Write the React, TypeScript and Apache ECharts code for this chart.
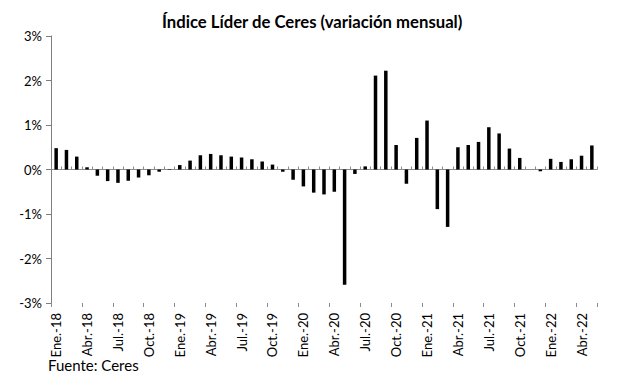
import React, { useEffect, useRef } from "react";
import * as echarts from "echarts";

const MONTHS = ["Ene", "Feb", "Mar", "Abr", "May", "Jun", "Jul", "Ago", "Sep", "Oct", "Nov", "Dic"];
const YEARS = ["18", "19", "20", "21", "22"];
const N_MONTHS = 53;

const categories: string[] = [];
for (let i = 0; i < N_MONTHS; i++) {
  categories.push(`${MONTHS[i % 12]}.-${YEARS[Math.floor(i / 12)]}`);
}

const values2018 = [0.48, 0.44, 0.29, 0.05, -0.14, -0.26, -0.3, -0.25, -0.18, -0.13, -0.05, 0.01];
const values2019 = [0.1, 0.2, 0.32, 0.35, 0.32, 0.29, 0.27, 0.23, 0.18, 0.11, -0.05, -0.23];
const values2020 = [-0.38, -0.52, -0.56, -0.5, -2.59, -0.1, 0.07, 2.11, 2.22, 0.55, -0.32, 0.71];
const values2021 = [1.1, -0.89, -1.29, 0.5, 0.55, 0.62, 0.95, 0.81, 0.47, 0.26, 0.0, -0.04];
const values2022 = [0.24, 0.17, 0.23, 0.31, 0.54];

const seriesValues = [...values2018, ...values2019, ...values2020, ...values2021, ...values2022];

const TITLE = "Índice Líder de Ceres (variación mensual)";
const SOURCE = "Fuente: Ceres";

const FONT = "Lato, 'Open Sans', sans-serif";

export default function App() {
  const ref = useRef<HTMLDivElement>(null);
  useEffect(() => {
    if (!ref.current) return;
    const chart = echarts.init(ref.current, undefined, { renderer: "svg" });
    chart.setOption({
      animation: false,
      backgroundColor: "#ffffff",
      title: {
        text: TITLE,
        left: 157,
        top: 8,
        textStyle: { fontFamily: FONT, fontWeight: "bold", fontSize: 16.7, color: "#000" },
      },
      grid: { left: 51, top: 36, right: 20, bottom: 75, containLabel: false },
      xAxis: [
        {
          type: "category",
          data: categories,
          position: "bottom",
          axisLine: { show: false, onZero: false },
          axisTick: { show: false },
          axisLabel: {
            interval: 2,
            rotate: 90,
            margin: 10,
            fontFamily: FONT,
            fontSize: 13,
            color: "#000",
          },
          splitLine: { show: false },
        },
        {
          type: "category",
          data: categories,
          position: "bottom",
          axisLine: { show: true, onZero: true, lineStyle: { color: "#8c8c8c", width: 1 } },
          axisTick: { show: true, inside: true, interval: 0, length: 3, lineStyle: { color: "#8c8c8c" } },
          axisLabel: { show: false },
          splitLine: { show: false },
        },
        {
          type: "category",
          data: categories,
          position: "bottom",
          axisLine: { show: false, onZero: true },
          axisTick: { show: true, inside: false, interval: 2, length: 4, lineStyle: { color: "#8c8c8c" } },
          axisLabel: { show: false },
          splitLine: { show: false },
        },
      ],
      yAxis: {
        type: "value",
        min: -3,
        max: 3,
        interval: 1,
        axisLine: { show: true, lineStyle: { color: "#7f7f7f", width: 1 } },
        axisTick: { show: true, length: 5, lineStyle: { color: "#7f7f7f" } },
        axisLabel: {
          formatter: (v: number) => `${v}%`,
          margin: 9,
          fontFamily: FONT,
          fontSize: 13,
          color: "#000",
        },
        splitLine: { show: false },
      },
      series: [
        {
          type: "bar",
          xAxisIndex: 0,
          data: seriesValues,
          barWidth: 3.5,
          itemStyle: { color: "#000" },
        },
      ],
      graphic: [
        {
          type: "text",
          left: 48,
          top: 357,
          style: { text: SOURCE, fontFamily: FONT, fontSize: 15, fill: "#000" },
        },
      ],
    });
    return () => chart.dispose();
  }, []);
  return <div ref={ref} style={{ width: 617, height: 378, position: "absolute", left: 0, top: 0 }} />;
}
